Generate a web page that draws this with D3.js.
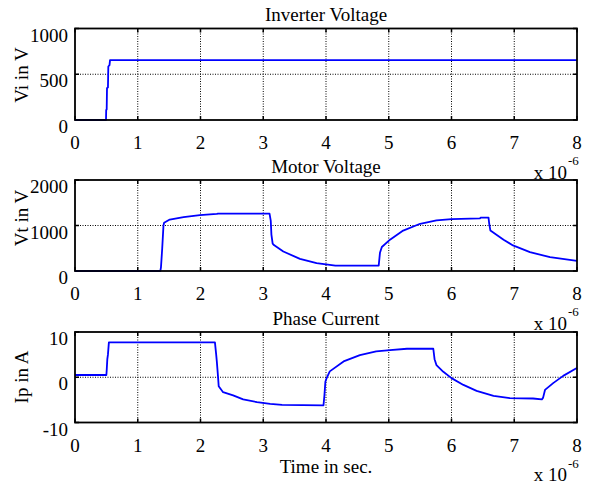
<!DOCTYPE html>
<html>
<head>
<meta charset="utf-8">
<script src="https://cdn.jsdelivr.net/npm/d3@7/dist/d3.min.js"></script>
<style>
  html, body { margin: 0; padding: 0; background: #fff; }
  svg { display: block; }
  text { font-family: "Liberation Serif", "Times New Roman", serif; fill: #000; }
</style>
</head>
<body>
<svg id="chart" width="590" height="484"></svg>
<script>
// Time axis (microseconds, shown with a x 10^-6 multiplier)
const xTicks = [0, 1, 2, 3, 4, 5, 6, 7, 8];

// Inverter voltage Vi (V)
const viTime  = [0, 0.494, 0.497, 0.505, 0.510, 0.525, 0.531, 0.550, 0.558, 8];
const viValue = [0, 0, 110, 115, 350, 355, 585, 600, 655, 655];
const viTicks = [0, 500, 1000];

// Motor terminal voltage Vt (V)
const vtTime  = [0, 1.36, 1.37, 1.39, 1.41, 1.42, 1.51, 1.73, 1.99, 2.26, 2.28, 3.10, 3.12, 3.13, 3.15, 3.17,
                 3.32, 3.585, 3.85, 4.06, 4.15, 4.84, 4.86, 4.89, 5.02, 5.23, 5.50, 5.76, 6.00, 6.45, 6.47,
                 6.59, 6.60, 6.62, 6.83, 6.98, 7.25, 7.57, 8.0];
const vtValue = [0, 0, 80, 500, 1000, 1060, 1130, 1185, 1228, 1255, 1262, 1262, 1100, 800, 600, 570,
                 429, 267, 171, 133, 117, 117, 400, 527, 689, 889, 1038, 1111, 1140, 1156, 1175,
                 1175, 1050, 889, 689, 562, 415, 304, 222];
const vtTicks = [0, 1000, 2000];

// Phase current Ip (A)
const ipTime  = [0, 0.50, 0.505, 0.515, 0.525, 0.54, 2.23, 2.25, 2.26, 2.28, 2.29, 2.36, 2.52, 2.68, 2.90,
                 3.11, 3.30, 3.96, 3.975, 3.99, 4.01, 4.06, 4.28, 4.54, 4.80, 5.02, 5.29, 5.71, 5.73, 5.76,
                 5.87, 6.00, 6.19, 6.40, 6.67, 6.93, 7.30, 7.44, 7.46, 7.49, 7.62, 7.78, 7.99, 8.0];
const ipValue = [0.5, 0.5, 1.5, 4, 5, 7.7, 7.7, 5, 3.5, 0, -2.0, -3.3, -4.0, -4.9, -5.5,
                 -5.9, -6.1, -6.2, -4, -1, -0.2, 1.3, 3.5, 4.9, 5.7, 6.0, 6.3, 6.3, 4, 2.7,
                 1.2, -0.2, -1.7, -3.0, -4.1, -4.6, -4.7, -4.9, -4.5, -2.8, -1.3, 0.3, 2.0, 2.1];
const ipTicks = [-10, 0, 10];

const panels = [
  { title: "Inverter Voltage", ylabel: "Vi in V", t: viTime, v: viValue, yTicks: viTicks, top: 28.5, bottom: 120,   labelY: 75 },
  { title: "Motor Voltage",    ylabel: "Vt in V", t: vtTime, v: vtValue, yTicks: vtTicks, top: 180,  bottom: 271,   labelY: 218 },
  { title: "Phase Current",    ylabel: "Ip in A", t: ipTime, v: ipValue, yTicks: ipTicks, top: 332,  bottom: 422.5, labelY: 377 }
];

const svg = d3.select("#chart");
const left = 75, right = 577;
const fontSize = 19;

const x = d3.scaleLinear().domain([0, 8]).range([left, right]);

panels.forEach((p, i) => {
  const y = d3.scaleLinear().domain([p.yTicks[0], p.yTicks[p.yTicks.length - 1]]).range([p.bottom, p.top]);
  const g = svg.append("g");

  // dotted grid
  g.selectAll(".gx").data(xTicks.slice(1, -1)).join("line")
    .attr("x1", d => x(d)).attr("x2", d => x(d))
    .attr("y1", p.top).attr("y2", p.bottom)
    .attr("stroke", "#000").attr("stroke-width", 1).attr("stroke-dasharray", "1,1.5");
  g.selectAll(".gy").data(p.yTicks.slice(1, -1)).join("line")
    .attr("x1", left).attr("x2", right)
    .attr("y1", d => y(d)).attr("y2", d => y(d))
    .attr("stroke", "#000").attr("stroke-width", 1).attr("stroke-dasharray", "1,1.5");

  // inward tick marks on all four sides
  const tl = 4;
  xTicks.forEach(d => {
    g.append("line").attr("x1", x(d)).attr("x2", x(d)).attr("y1", p.bottom).attr("y2", p.bottom - tl)
      .attr("stroke", "#000").attr("stroke-width", 1.5);
    g.append("line").attr("x1", x(d)).attr("x2", x(d)).attr("y1", p.top).attr("y2", p.top + tl)
      .attr("stroke", "#000").attr("stroke-width", 1.5);
  });
  p.yTicks.forEach(d => {
    g.append("line").attr("x1", left).attr("x2", left + tl).attr("y1", y(d)).attr("y2", y(d))
      .attr("stroke", "#000").attr("stroke-width", 1.5);
    g.append("line").attr("x1", right).attr("x2", right - tl).attr("y1", y(d)).attr("y2", y(d))
      .attr("stroke", "#000").attr("stroke-width", 1.5);
  });

  // signal trace
  const pts = p.t.map((t, k) => [t, p.v[k]]);
  g.append("path").datum(pts)
    .attr("d", d3.line().x(d => x(d[0])).y(d => y(d[1])))
    .attr("fill", "none").attr("stroke", "#0000ff").attr("stroke-width", 1.8)
    .attr("stroke-linejoin", "round");

  // frame
  g.append("rect").attr("x", left).attr("y", p.top)
    .attr("width", right - left).attr("height", p.bottom - p.top)
    .attr("fill", "none").attr("stroke", "#000").attr("stroke-width", 1.8);

  // tick labels
  g.selectAll(".xl").data(xTicks).join("text")
    .attr("x", d => x(d)).attr("y", p.bottom + 29)
    .attr("text-anchor", "middle").attr("font-size", fontSize)
    .text(d => d);
  g.selectAll(".yl").data(p.yTicks).join("text")
    .attr("x", 68).attr("y", d => y(d) + 13)
    .attr("text-anchor", "end").attr("font-size", fontSize)
    .text(d => d);

  // exponent note
  g.append("text").attr("x", 567).attr("y", p.bottom + 58.5)
    .attr("text-anchor", "end").attr("font-size", fontSize).text("x 10");
  g.append("text").attr("x", 568).attr("y", p.bottom + 45)
    .attr("font-size", 13).text("-6");

  // title
  g.append("text").attr("x", (left + right) / 2).attr("y", p.top - 7.5)
    .attr("text-anchor", "middle").attr("font-size", fontSize).text(p.title);

  // y label
  g.append("text").attr("transform", `translate(28,${p.labelY}) rotate(-90)`)
    .attr("text-anchor", "middle").attr("font-size", fontSize).text(p.ylabel);
});

svg.append("text").attr("x", (left + right) / 2).attr("y", 473)
  .attr("text-anchor", "middle").attr("font-size", fontSize).text("Time in sec.");
</script>
</body>
</html>
